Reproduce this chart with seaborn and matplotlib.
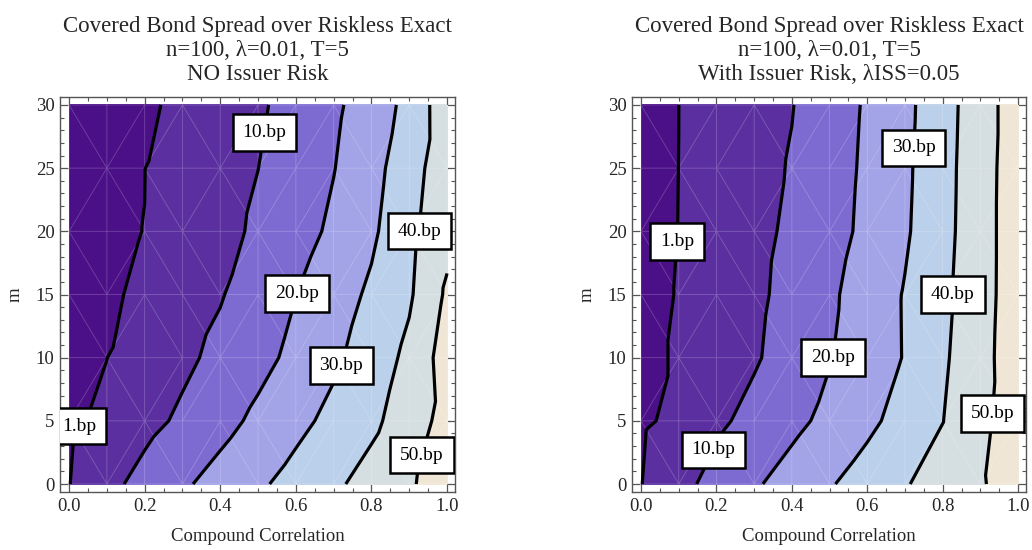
import numpy as np
import matplotlib
matplotlib.use("Agg")
import matplotlib.pyplot as plt
import matplotlib.tri as mtri
from matplotlib.colors import ListedColormap, BoundaryNorm
from matplotlib.ticker import MultipleLocator
import seaborn as sns

# grid the spreads were read on
corr = [0.0, 0.1, 0.2, 0.3, 0.4, 0.5, 0.6, 0.7, 0.8, 0.9, 1.0]
m_vals = [0, 5, 10, 15, 20, 25, 30]

# spread in bp, one row per m value
spread_no_issuer = [
    [0.8, 7.3, 13.2, 18.6, 23.6, 28.5, 33.4, 38.3, 43.6, 49.0, 54.4],
    [0.0, 2.2, 7.2, 11.6, 16.8, 22.1, 27.4, 32.6, 37.9, 45.0, 53.4],
    [0.0, 0.95, 4.5, 8.1, 12.3, 17.1, 22.4, 28.3, 34.7, 42.3, 54.5],
    [0.0, 0.8, 1.25, 6.1, 9.4, 14.5, 19.9, 25.6, 31.6, 38.7, 51.5],
    [0.0, 0.5, 1.04, 4.4, 7.6, 11.3, 16.3, 21.7, 28.3, 37.4, 47.0],
    [0.0, 0.5, 0.95, 3.9, 6.9, 9.95, 14.8, 19.7, 26.6, 35.8, 46.0],
    [0.0, 0.4, 0.7, 1.4, 5.7, 8.8, 13.1, 18.3, 24.6, 32.8, 46.1],
]
spread_issuer = [
    [0.8, 7.2, 13.1, 18.8, 24.0, 29.2, 34.3, 39.3, 44.3, 49.2, 54.2],
    [0.0, 2.5, 8.2, 12.8, 17.5, 22.5, 27.8, 33.7, 39.8, 47.8, 55.0],
    [0.0, 1.4, 5.5, 9.0, 14.0, 19.5, 24.9, 30.5, 38.5, 46.9, 55.3],
    [0.0, 1.15, 4.9, 8.2, 12.7, 18.4, 24.4, 30.6, 37.6, 46.4, 55.0],
    [0.0, 1.03, 4.4, 7.7, 11.5, 16.6, 22.1, 28.8, 36.8, 46.3, 55.0],
    [0.0, 1.01, 4.1, 7.3, 10.6, 15.9, 21.6, 28.3, 36.5, 46.1, 55.0],
    [0.0, 0.99, 3.9, 6.8, 9.7, 15.2, 21.1, 27.6, 36.1, 45.6, 55.0],
]
contour_levels = [1, 10, 20, 30, 40, 50]
band_colors = ["#4b0f87", "#5b2fa0", "#7e6bd2", "#a3a3e8",
               "#bbd0ea", "#d5dee0", "#f0e6d5"]

titles = [
    "Covered Bond Spread over Riskless Exact\nn=100, λ=0.01, T=5\nNO Issuer Risk",
    "Covered Bond Spread over Riskless Exact\nn=100, λ=0.01, T=5\nWith Issuer Risk, λISS=0.05",
]
# where the contour labels sit (near points, snapped to the lines)
label_spots = [
    [(0.03, 4.4), (0.52, 27.8), (0.61, 15.0), (0.72, 9.4), (0.93, 20.0), (0.945, 2.2)],
    [(0.10, 19.2), (0.20, 2.6), (0.51, 10.0), (0.73, 26.6), (0.84, 15.0), (0.93, 5.6)],
]

sns.set_theme(style="ticks")
plt.rcParams["font.family"] = ["Liberation Serif", "DejaVu Serif"]

fig = plt.figure(figsize=(10.32, 5.5), dpi=100)
ax1 = fig.add_axes([60 / 1032, 1 - 492 / 550, 395 / 1032, 395 / 550])
ax2 = fig.add_axes([632 / 1032, 1 - 492 / 550, 394 / 1032, 395 / 550])

X, Y = np.meshgrid(corr, m_vals)
tri = mtri.Triangulation(X.ravel(), Y.ravel() / 30.0)
tri = mtri.Triangulation(X.ravel(), Y.ravel(), tri.triangles)

cmap = ListedColormap(band_colors)
bounds = [-5] + contour_levels + [80]
norm = BoundaryNorm(bounds, cmap.N)

for ax, data, title, spots in zip([ax1, ax2], [spread_no_issuer, spread_issuer],
                                  titles, label_spots):
    Z = np.array(data).ravel()
    ax.tricontourf(tri, Z, levels=bounds, cmap=cmap, norm=norm)
    ax.triplot(tri, color="white", alpha=0.22, lw=0.6)
    cs = ax.tricontour(tri, Z, levels=contour_levels, colors="black", linewidths=2.3)
    labs = ax.clabel(cs, contour_levels, manual=spots, inline=False,
                     fmt=lambda v: f"{v:g}.bp", fontsize=14, colors="black")
    for t in labs:
        t.set_rotation(0)
        t.set_zorder(5)
        t.set_clip_on(True)
        t.set_bbox(dict(boxstyle="square,pad=0.5", fc="white", ec="black", lw=1.8))

    ax.set_xlim(-0.024, 1.021)
    ax.set_ylim(-0.63, 30.63)
    ax.set_facecolor("white")
    ax.xaxis.set_major_locator(MultipleLocator(0.2))
    ax.xaxis.set_minor_locator(MultipleLocator(0.05))
    ax.yaxis.set_major_locator(MultipleLocator(5))
    ax.yaxis.set_minor_locator(MultipleLocator(1))
    ax.xaxis.set_major_formatter(plt.FuncFormatter(lambda v, p: f"{v:.1f}"))
    ax.tick_params(which="both", direction="in", top=True, right=True,
                   color="#555555", labelsize=13.5, pad=4)
    ax.tick_params(which="major", length=6, width=0.9)
    ax.tick_params(which="minor", length=3, width=0.8)
    for s in ax.spines.values():
        s.set_color("#555555")
        s.set_linewidth(1.0)
    ax.set_xlabel("Compound Correlation", fontsize=13.5, labelpad=10)
    ax.set_ylabel("m", fontsize=13.5, labelpad=9)
    ax.set_title(title, fontsize=16.5, linespacing=1.2, pad=12)

fig.savefig("out.png", dpi=100)
